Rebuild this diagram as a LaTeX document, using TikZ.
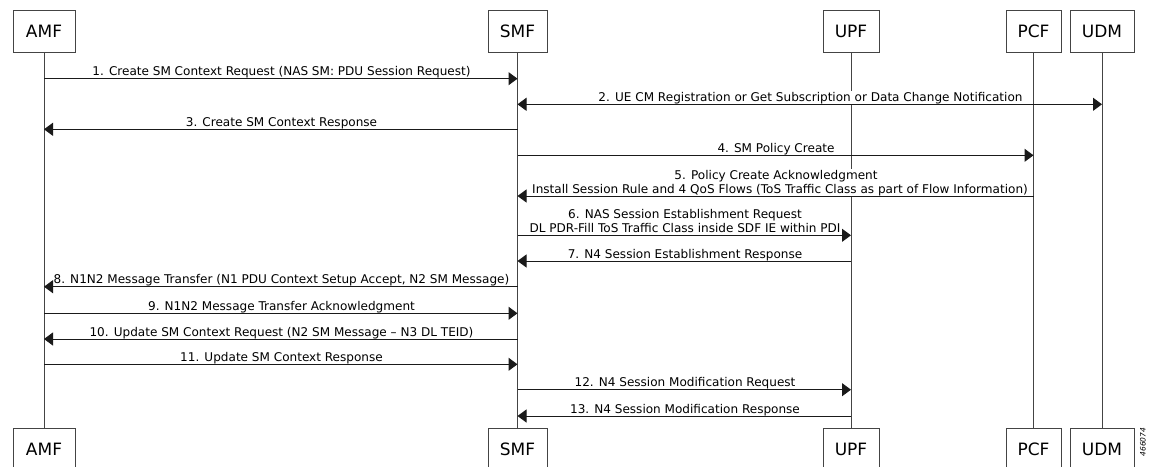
\documentclass[tikz,border=0pt]{standalone}
\usepackage{fontspec}
\setmainfont{DejaVu Sans}
\usetikzlibrary{arrows.meta}
\definecolor{boxgray}{HTML}{444444}
\definecolor{lifegray}{HTML}{444444}
\definecolor{arrowcol}{HTML}{1A1A1A}
\begin{document}
\begin{tikzpicture}[x=1pt,y=-1pt,
  pbox/.style={draw=boxgray, line width=1pt, minimum height=42pt, inner sep=0pt, font=\fontsize{17}{20}\selectfont, text=black},
  life/.style={draw=lifegray, line width=1pt},
  msg/.style={draw=arrowcol, line width=1pt, -{Triangle[length=9pt,width=13pt]}},
  bimsg/.style={draw=arrowcol, line width=1pt, {Triangle[length=9pt,width=13pt]}-{Triangle[length=9pt,width=13pt]}},
  lbl/.style={anchor=base, font=\fontsize{12.05}{14}\selectfont, fill=white, inner sep=1pt, text=black}
]
\useasboundingbox (0,0) rectangle (1153,466);
\clip (0,0) rectangle (1153,466);
% participants
\node[pbox, minimum width=62pt] (amfT) at (44,31) {AMF};
\node[pbox, minimum width=59pt] (smfT) at (517.5,31) {SMF};
\node[pbox, minimum width=56pt] (upfT) at (851,31) {UPF};
\node[pbox, minimum width=55pt] (pcfT) at (1033.5,31) {PCF};
\node[pbox, minimum width=64pt] (udmT) at (1102,31) {UDM};
\node[pbox, minimum width=62pt] (amfB) at (44,449) {AMF};
\node[pbox, minimum width=59pt] (smfB) at (517.5,449) {SMF};
\node[pbox, minimum width=56pt] (upfB) at (851,449) {UPF};
\node[pbox, minimum width=55pt] (pcfB) at (1033.5,449) {PCF};
\node[pbox, minimum width=64pt] (udmB) at (1102,449) {UDM};
% lifelines
\draw[life] (amfT.south) -- (amfB.north);
\draw[life] (smfT.south) -- (smfB.north);
\draw[life] (upfT.south) -- (upfB.north);
\draw[life] (pcfT.south) -- (pcfB.north);
\draw[life] (udmT.south) -- (udmB.north);
% labels
\node[lbl] (l1) at (281.5,75.7) {1. Create SM Context Request (NAS SM: PDU Session Request)};
\node[lbl] (l2) at (810.5,101.3) {2. UE CM Registration or Get Subscription or Data Change Notification};
\node[lbl] (l3) at (281.5,126.3) {3. Create SM Context Response};
\node[lbl] (l4) at (776,152.3) {4. SM Policy Create};
\node[lbl] (l5a) at (776,179) {5. Policy Create Acknowledgment};
\node[lbl] (l5b) at (780,193) {Install Session Rule and 4 QoS Flows (ToS Traffic Class as part of Flow Information)};
\node[lbl] (l6a) at (685,218.3) {6. NAS Session Establishment Request};
\node[lbl] (l6b) at (685,232.3) {DL PDR-Fill ToS Traffic Class inside SDF IE within PDI};
\node[lbl] (l7) at (685,258) {7. N4 Session Establishment Response};
\node[lbl] (l8) at (281.5,283.7) {8. N1N2 Message Transfer (N1 PDU Context Setup Accept, N2 SM Message)};
\node[lbl] (l9) at (281.5,310.3) {9. N1N2 Message Transfer Acknowledgment};
\node[lbl] (l10) at (281.5,336) {10. Update SM Context Request (N2 SM Message – N3 DL TEID)};
\node[lbl] (l11) at (281.5,361.3) {11. Update SM Context Response};
\node[lbl] (l12) at (685,386.7) {12. N4 Session Modification Request};
\node[lbl] (l13) at (685,413) {13. N4 Session Modification Response};
% message end points
\coordinate (a1) at (44,78.7);   \coordinate (s1) at (517.5,78.7);
\coordinate (s2) at (517.5,104.3); \coordinate (d2) at (1102,104.3);
\coordinate (a3) at (44,129.3);  \coordinate (s3) at (517.5,129.3);
\coordinate (s4) at (517.5,155.3); \coordinate (p4) at (1033.5,155.3);
\coordinate (s5) at (517.5,196); \coordinate (p5) at (1033.5,196);
\coordinate (s6) at (517.5,235.3); \coordinate (u6) at (851,235.3);
\coordinate (s7) at (517.5,261); \coordinate (u7) at (851,261);
\coordinate (a8) at (44,286.7);  \coordinate (s8) at (517.5,286.7);
\coordinate (a9) at (44,313.3);  \coordinate (s9) at (517.5,313.3);
\coordinate (a10) at (44,339);   \coordinate (s10) at (517.5,339);
\coordinate (a11) at (44,364.3); \coordinate (s11) at (517.5,364.3);
\coordinate (s12) at (517.5,389.7); \coordinate (u12) at (851,389.7);
\coordinate (s13) at (517.5,416); \coordinate (u13) at (851,416);
% messages
\draw[msg] (a1) -- (s1);
\draw[bimsg] (s2) -- (d2);
\draw[msg] (s3) -- (a3);
\draw[msg] (s4) -- (p4);
\draw[msg] (p5) -- (s5);
\draw[msg] (s6) -- (u6);
\draw[msg] (u7) -- (s7);
\draw[msg] (s8) -- (a8);
\draw[msg] (a9) -- (s9);
\draw[msg] (s10) -- (a10);
\draw[msg] (a11) -- (s11);
\draw[msg] (s12) -- (u12);
\draw[msg] (u13) -- (s13);
% figure number
\node[rotate=90, font=\fontsize{7.5}{8}\selectfont\itshape, text=black] (fignum) at (1143,442) {466074};
\end{tikzpicture}
\end{document}
